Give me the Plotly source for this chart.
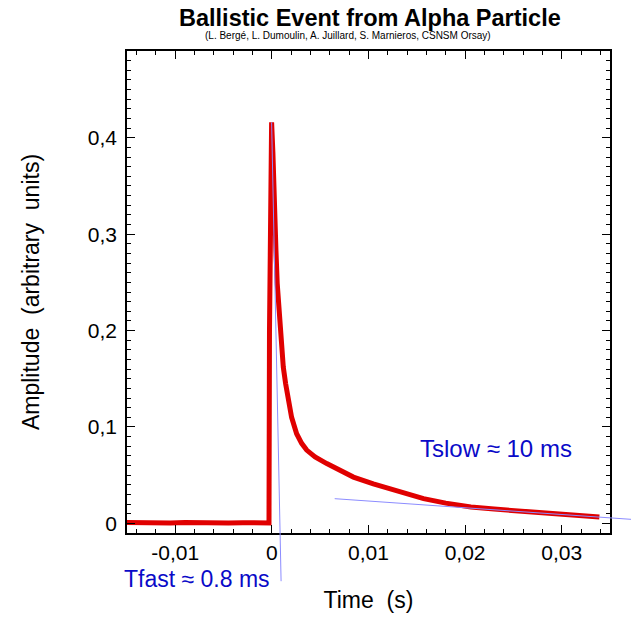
import plotly.graph_objects as go

# ---- data ----
time_s = [-0.015, -0.0135, -0.012, -0.0105, -0.009, -0.0075, -0.006, -0.0045,
          -0.003, -0.0015, -0.0003, -0.00025, -0.00012, -0.00003, 0.0001, 0.0002,
          0.00042, 0.00055, 0.00076, 0.00097, 0.00118, 0.00142, 0.00169, 0.00204,
          0.00256, 0.00308, 0.0036, 0.00447, 0.00568, 0.00706, 0.00844, 0.0105,
          0.0129, 0.0157, 0.0180, 0.0206, 0.0230, 0.0258, 0.0280, 0.0310, 0.0339]
amplitude = [0.0008, 0.0004, 0.0009, 0.0005, 0.0008, 0.0003, 0.0007, 0.0004,
             0.0006, 0.0003, 0.0005, 0.20, 0.40, 0.416, 0.385, 0.340,
             0.283, 0.249, 0.214, 0.179, 0.162, 0.145, 0.128, 0.110,
             0.093, 0.083, 0.076, 0.069, 0.062, 0.055, 0.048, 0.041,
             0.034, 0.0256, 0.021, 0.017, 0.0148, 0.0128, 0.0110, 0.0086, 0.0065]

fast_fit_t = [-0.00003, 0.00014, 0.00031, 0.00057, 0.00066, 0.00083, 0.00095]
fast_fit_v = [0.416, 0.335, 0.273, 0.148, 0.102, -0.010, -0.060]

slow_fit_t = [0.0065, 0.0154, 0.0258, 0.0340, 0.0373]
slow_fit_v = [0.0256, 0.0194, 0.0122, 0.0064, 0.0041]

x_tickvals = [-0.01, 0, 0.01, 0.02, 0.03]
x_ticktext = ["-0,01", "0", "0,01", "0,02", "0,03"]
y_tickvals = [0, 0.1, 0.2, 0.3, 0.4]
y_ticktext = ["0", "0,1", "0,2", "0,3", "0,4"]

# ---- layout geometry ----
W, H = 631, 618
x_dom = [127 / W, 610 / W]
y_dom = [(H - 533) / H, (H - 51) / H]
xr = [-0.015, 0.035]
yr = [-0.01, 0.49]
sx = (xr[1] - xr[0]) / (x_dom[1] - x_dom[0])
sy = (yr[1] - yr[0]) / (y_dom[1] - y_dom[0])
x2r = [xr[0] - x_dom[0] * sx, xr[1] + (1 - x_dom[1]) * sx]
y2r = [yr[0] - y_dom[0] * sy, yr[1] + (1 - y_dom[1]) * sy]

FONT = "Liberation Sans, Arial, sans-serif"
RED = "#e00000"
FITBLUE = "#8c8cff"
TXTBLUE = "#0a0ac8"

fig = go.Figure()
fig.add_trace(go.Scatter(x=time_s, y=amplitude, mode="lines",
                         line=dict(color=RED, width=5), xaxis="x", yaxis="y",
                         showlegend=False, hoverinfo="skip"))
fig.add_trace(go.Scatter(x=fast_fit_t, y=fast_fit_v, mode="lines",
                         line=dict(color=FITBLUE, width=1), xaxis="x2", yaxis="y2",
                         showlegend=False, hoverinfo="skip"))
fig.add_trace(go.Scatter(x=slow_fit_t, y=slow_fit_v, mode="lines",
                         line=dict(color=FITBLUE, width=1), xaxis="x2", yaxis="y2",
                         showlegend=False, hoverinfo="skip"))

axis_common = dict(showline=True, linecolor="black", linewidth=1.6, mirror="allticks",
                   ticks="inside", ticklen=8, tickwidth=1, tickcolor="black",
                   showgrid=False, zeroline=False,
                   tickfont=dict(family=FONT, size=21, color="black"))

fig.update_layout(
    width=W, height=H,
    margin=dict(l=0, r=0, t=0, b=0, autoexpand=False),
    paper_bgcolor="white", plot_bgcolor="rgba(0,0,0,0)",
    separators=",.",
    font=dict(family=FONT, color="black"),
    xaxis=dict(domain=x_dom, range=xr, anchor="y", tickmode="array",
               tickvals=x_tickvals, ticktext=x_ticktext, ticklabelstandoff=0,
               minor=dict(ticks="inside", ticklen=4, tickwidth=1, tickcolor="black",
                          dtick=0.002, tick0=0, showgrid=False),
               title=dict(text="Time  (s)", font=dict(family=FONT, size=23), standoff=29),
               automargin=False, **axis_common),
    yaxis=dict(domain=y_dom, range=yr, anchor="x", tickmode="array",
               tickvals=y_tickvals, ticktext=y_ticktext, ticklabelstandoff=4,
               minor=dict(ticks="inside", ticklen=4, tickwidth=1, tickcolor="black",
                          dtick=0.01, tick0=0, showgrid=False),
               title=dict(text="Amplitude  (arbitrary  units)", font=dict(family=FONT, size=23),
                          standoff=42),
               automargin=False, **axis_common),
    xaxis2=dict(domain=[0, 1], range=x2r, anchor="y2", visible=False, fixedrange=True),
    yaxis2=dict(domain=[0, 1], range=y2r, anchor="x2", visible=False, fixedrange=True),
    annotations=[
        dict(text="<b>Ballistic Event from Alpha Particle</b>", xref="paper", yref="paper",
             x=370 / W, y=1 - 18 / H, xanchor="center", yanchor="middle", showarrow=False,
             font=dict(family=FONT, size=23.5, color="black")),
        dict(text="(L. Bergé, L. Dumoulin, A. Juillard, S. Marnieros, CSNSM Orsay)",
             xref="paper", yref="paper", x=348 / W, y=1 - 35 / H, xanchor="center",
             yanchor="middle", showarrow=False, font=dict(family=FONT, size=10, color="black")),
        dict(text="Tslow ≈ 10 ms", xref="x2", yref="y2", x=0.0232, y=0.0778,
             xanchor="center", yanchor="middle", showarrow=False,
             font=dict(family=FONT, size=24, color=TXTBLUE)),
        dict(text="Tfast ≈ 0.8 ms", xref="x2", yref="y2", x=-0.0078, y=-0.0575,
             xanchor="center", yanchor="middle", showarrow=False,
             font=dict(family=FONT, size=23, color=TXTBLUE)),
    ],
)

fig.write_html("out.html", config={"displayModeBar": False},
               post_script="document.body.style.margin='0px';")
